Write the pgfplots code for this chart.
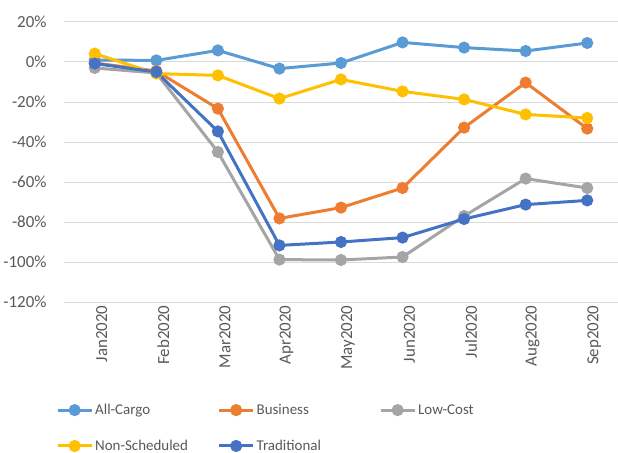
\documentclass[border=0pt]{standalone}
\usepackage{pgfplots}
\pgfplotsset{compat=1.18}
\usepackage{fontspec}
\setmainfont{Carlito}
\definecolor{cargo}{HTML}{5B9BD5}
\definecolor{business}{HTML}{ED7D31}
\definecolor{lowcost}{HTML}{A5A5A5}
\definecolor{nonsched}{HTML}{FFC000}
\definecolor{trad}{HTML}{4472C4}
\definecolor{txt}{HTML}{595959}
\definecolor{gridc}{HTML}{D9D9D9}
\begin{document}
\begin{tikzpicture}[x=1bp,y=1bp]
\begin{axis}[name=ax, at={(0,0)}, anchor=south west,
  scale only axis, width=554bp, height=280bp,
  xmin=-0.5, xmax=8.5, ymin=-120, ymax=20,
  xtick={0,...,8},
  xticklabels={Jan2020,Feb2020,Mar2020,Apr2020,May2020,Jun2020,Jul2020,Aug2020,Sep2020},
  ytick={-120,-100,...,20},
  ymajorgrids, major grid style={draw=gridc, line width=1bp},
  axis line style={draw=none}, tick style={draw=none},
  /pgf/number format/assume math mode=true,
  yticklabel={\pgfmathprintnumber{\tick}\%},
  ticklabel style={font=\fontsize{17}{20}\selectfont, text=txt},
  xticklabel style={rotate=90, anchor=east, xshift=0bp, yshift=-7bp},
  yticklabel style={anchor=east, xshift=-14bp},
  every axis plot/.append style={line width=3bp, mark=*, mark size=4.5bp, mark options={solid}},
  legend columns=3,
  legend image code/.code={\draw[mark repeat=2,mark phase=2] plot coordinates {(0bp,0bp) (17bp,0bp) (34bp,0bp)};},
  legend style={draw=none, at={(0,0)}, anchor=north west, xshift=-11bp, yshift=-98bp,
    font=\fontsize{15}{18}\selectfont, text=txt, row sep=20bp, legend cell align=left},
]
\addplot[color=cargo] coordinates {(0,1) (1,0.8) (2,5.8) (3,-3.3) (4,-0.5) (5,9.8) (6,7.2) (7,5.5) (8,9.5)};
\addlegendentry{\makebox[120.5bp][l]{All-Cargo}}
\addplot[color=business] coordinates {(0,-0.5) (1,-4.5) (2,-23.3) (3,-78.2) (4,-72.8) (5,-63) (6,-32.8) (7,-10.3) (8,-33.3)};
\addlegendentry{\makebox[120.5bp][l]{Business}}
\addplot[color=lowcost] coordinates {(0,-3) (1,-5.5) (2,-45) (3,-98.8) (4,-99) (5,-97.5) (6,-77) (7,-58.3) (8,-63)};
\addlegendentry{\makebox[120.5bp][l]{Low-Cost}}
\addplot[color=nonsched] coordinates {(0,4.2) (1,-5.8) (2,-6.7) (3,-18.3) (4,-8.7) (5,-14.7) (6,-18.7) (7,-26.2) (8,-28)};
\addlegendentry{\makebox[120.5bp][l]{Non-Scheduled}}
\addplot[color=trad] coordinates {(0,-0.8) (1,-5) (2,-34.7) (3,-91.7) (4,-90) (5,-87.8) (6,-78.5) (7,-71.3) (8,-69.2)};
\addlegendentry{\makebox[120.5bp][l]{Traditional}}
\end{axis}
\pgfresetboundingbox
\path[use as bounding box] (ax.south west) ++(-64bp,-151bp) rectangle ++(618bp,453bp);
\end{tikzpicture}
\end{document}
